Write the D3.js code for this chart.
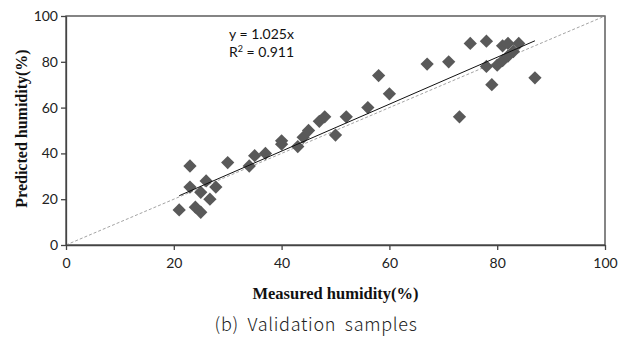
<!DOCTYPE html>
<html>
<head>
<meta charset="utf-8">
<script src="https://cdn.jsdelivr.net/npm/d3@7"></script>
<style>
  body { margin: 0; background: #fff; }
  svg { display: block; }
</style>
</head>
<body>
<div id="chart"></div>
<script>
// data
var measured  = [21, 23, 23, 24, 25, 25, 26, 26.7, 27.8, 30, 34, 35, 37, 40, 40, 43, 44, 45, 47, 48,
                 50, 52, 56, 58, 60, 67, 71, 73, 75, 78, 78, 79, 80, 81, 82, 83, 81, 82, 84, 87];
var predicted = [15.3, 34.5, 25.3, 16.5, 14.3, 23, 28, 20, 25.3, 36, 34.5, 39, 40, 44, 45.5, 43, 47, 50, 54, 56,
                 48, 56, 60, 74, 66, 79, 80, 56, 88, 89, 78, 70, 78.5, 80.5, 82.5, 84.5, 87, 88, 88, 73];
var slope = 1.025;
var r2 = 0.911;
var tickValues = [0, 20, 40, 60, 80, 100];

var svgWidth = 624;
var svgHeight = 344;
var margin = {top: 16, right: 19, bottom: 99, left: 66};
var chartWidth = svgWidth - margin.left - margin.right;
var chartHeight = svgHeight - margin.top - margin.bottom;

var svg = d3.select("#chart")
  .append("svg")
  .attr("width", svgWidth)
  .attr("height", svgHeight);

var g = svg.append("g")
  .attr("transform", `translate(${margin.left},${margin.top})`);

var x = d3.scaleLinear().domain([0, 100]).range([0, chartWidth]);
var y = d3.scaleLinear().domain([0, 100]).range([chartHeight, 0]);

var tickFont = "Lato, 'Open Sans', sans-serif";
var axisColor = "#444";

// plot frame
g.append("rect")
  .attr("x", 0).attr("y", 0)
  .attr("width", chartWidth).attr("height", chartHeight)
  .attr("fill", "none")
  .attr("stroke", axisColor)
  .attr("stroke-width", 1.3);

// 1:1 reference line
g.append("line")
  .attr("x1", x(0)).attr("y1", y(0))
  .attr("x2", x(100)).attr("y2", y(100))
  .attr("stroke", "#999")
  .attr("stroke-width", 0.9)
  .attr("stroke-dasharray", "3,2");

// points
var pts = measured.map(function(m, i) { return {m: m, p: predicted[i]}; });
g.selectAll("path.pt")
  .data(pts)
  .enter()
  .append("path")
  .attr("class", "pt")
  .attr("d", d3.symbol().type(d3.symbolSquare).size(88))
  .attr("transform", function(d) {
    return `translate(${x(d.m)},${y(d.p)}) rotate(45)`;
  })
  .attr("fill", "#595959");

// trend line y = slope * x over data range
var xMin = d3.min(measured), xMax = d3.max(measured);
g.append("line")
  .attr("x1", x(xMin)).attr("y1", y(slope * xMin))
  .attr("x2", x(xMax)).attr("y2", y(slope * xMax))
  .attr("stroke", "#111")
  .attr("stroke-width", 1);

// axes
var bottomAxis = d3.axisBottom(x).tickValues(tickValues).tickSize(5).tickSizeOuter(0);
var leftAxis = d3.axisLeft(y).tickValues(tickValues).tickSize(5).tickSizeOuter(0);

var xg = g.append("g").attr("transform", `translate(0,${chartHeight})`).call(bottomAxis);
var yg = g.append("g").call(leftAxis);

[xg, yg].forEach(function(a) {
  a.select(".domain").attr("stroke", axisColor).attr("stroke-width", 1.3);
  a.selectAll(".tick line").attr("stroke", axisColor).attr("stroke-width", 1.3);
  a.selectAll(".tick text")
    .attr("fill", "#222")
    .style("font-family", tickFont)
    .style("font-size", "14px");
});
xg.selectAll(".tick text").attr("dy", "1.1em");
yg.selectAll(".tick text").attr("x", -8);

// equation text
g.append("text")
  .attr("x", 163).attr("y", 23)
  .style("font-family", tickFont)
  .style("font-size", "14px")
  .attr("fill", "#111")
  .text("y = " + slope + "x");

var r2Text = g.append("text")
  .attr("x", 163).attr("y", 41)
  .style("font-family", tickFont)
  .style("font-size", "14px")
  .attr("fill", "#111");
r2Text.append("tspan").text("R");
r2Text.append("tspan").attr("dy", -5).style("font-size", "9px").text("2");
r2Text.append("tspan").attr("dy", 5).text(" = " + r2);

// axis titles
svg.append("text")
  .attr("x", margin.left + chartWidth / 2)
  .attr("y", 299)
  .attr("text-anchor", "middle")
  .style("font-family", "'Liberation Serif', serif")
  .style("font-weight", "bold")
  .style("font-size", "16.5px")
  .attr("fill", "#111")
  .text("Measured humidity(%)");

svg.append("text")
  .attr("transform", `translate(27,${margin.top + chartHeight / 2 - 2}) rotate(-90)`)
  .attr("text-anchor", "middle")
  .style("font-family", "'Liberation Serif', serif")
  .style("font-weight", "bold")
  .style("font-size", "16px")
  .attr("fill", "#111")
  .text("Predicted humidity(%)");

// caption
svg.append("text")
  .attr("x", 316)
  .attr("y", 331)
  .attr("text-anchor", "middle")
  .style("font-family", "'Noto Sans CJK KR', 'Noto Sans', sans-serif")
  .style("font-weight", 300)
  .style("font-size", "18px")
  .style("letter-spacing", "0.7px")
  .style("word-spacing", "4px")
  .attr("fill", "#222")
  .text("(b) Validation samples");
</script>
</body>
</html>
